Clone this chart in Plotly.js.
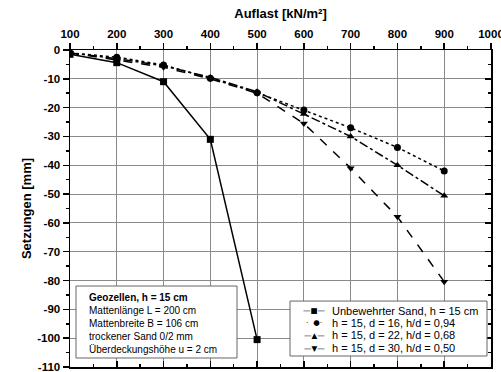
<!DOCTYPE html>
<html><head><meta charset="utf-8">
<script src="https://cdn.plot.ly/plotly-3.0.1.min.js"></script>
<style>html,body{margin:0;padding:0;background:#fff}#c{width:501px;height:372px}</style>
</head><body><div id="c"></div>
<script>
const loads = [100, 200, 300, 400, 500, 600, 700, 800, 900];
const unbewehrt = [-1.5, -4.4, -11, -31, -100.5];
const hd094 = [-1, -2.5, -5.2, -9.8, -14.8, -20.8, -27, -33.8, -42];
const hd068 = [-1, -3, -5.5, -9.5, -14.5, -22.2, -30, -40, -50.6];
const hd050 = [-1, -3.5, -6, -10, -15, -25.5, -41, -57.9, -80.4];
const names = ['Unbewehrter Sand, h = 15 cm', 'h = 15, d = 16, h/d = 0,94', 'h = 15, d = 22, h/d = 0,68', 'h = 15, d = 30, h/d = 0,50'];
const legendSamples = ['—■—', '·  ●·', '—▲—', '—▼—'];
const infoLines = ['<b>Geozellen, h = 15 cm</b>', 'Mattenlänge L = 200 cm', 'Mattenbreite B = 106 cm', 'trockener Sand 0/2 mm', 'Überdeckungshöhe u = 2 cm'];
const xTicks = [100, 200, 300, 400, 500, 600, 700, 800, 900, 1000];
const yTicks = [0, -10, -20, -30, -40, -50, -60, -70, -80, -90, -100, -110];

const FONT = 'Liberation Sans, Arial, sans-serif';
const mk = (sym) => ({symbol: sym, size: 7, color: '#000'});
const traces = [
  {x: loads.slice(0, unbewehrt.length), y: unbewehrt, name: names[0], mode: 'lines+markers', line: {color: '#000', width: 1.5, dash: 'solid'}, marker: mk('square')},
  {x: loads, y: hd094, name: names[1], mode: 'lines+markers', line: {color: '#000', width: 1.5, dash: 'dot'}, marker: mk('circle')},
  {x: loads, y: hd068, name: names[2], mode: 'lines+markers', line: {color: '#000', width: 1.5, dash: 'dashdot'}, marker: mk('triangle-up')},
  {x: loads, y: hd050, name: names[3], mode: 'lines+markers', line: {color: '#000', width: 1.5, dash: 'dash'}, marker: mk('triangle-down')},
  {x: [], y: [], xaxis: 'x2', yaxis: 'y2', showlegend: false, hoverinfo: 'skip', mode: 'lines'}
];
const tf = {family: FONT, size: 11.5, color: '#000', weight: 'bold'};

const legendRowY = [0.1776, 0.1397, 0.1000, 0.0599];
const annotations = [];
legendSamples.forEach((s, i) => {
  annotations.push({xref: 'paper', yref: 'paper', x: 0.5796, y: legendRowY[i], xanchor: 'center', yanchor: 'middle',
    showarrow: false, text: s, font: {family: 'DejaVu Sans, sans-serif', size: 7.5, color: '#000'}});
  annotations.push({xref: 'paper', yref: 'paper', x: 0.6176, y: legendRowY[i], xanchor: 'left', yanchor: 'middle',
    showarrow: false, text: names[i], font: {family: FONT, size: 11, color: '#000'}});
});
annotations.push({
  xref: 'paper', yref: 'paper', x: 0.0397, y: 0.1379, xanchor: 'left', yanchor: 'middle',
  align: 'left', showarrow: false, text: infoLines.join('<br>'),
  font: {family: FONT, size: 10, color: '#000'}
});

const layout = {
  width: 501, height: 372,
  margin: {l: 70, r: 10, t: 50, b: 5},
  paper_bgcolor: '#fff', plot_bgcolor: '#fff',
  showlegend: false,
  font: {family: FONT, color: '#000'},
  xaxis: {
    range: [100, 1000], side: 'top', tickvals: xTicks, ticktext: xTicks.map(String),
    ticks: 'outside', ticklen: 6, tickwidth: 1.5, tickcolor: '#000', ticklabeloverflow: 'allow',
    showline: true, linecolor: '#000', linewidth: 1.5,
    showgrid: true, gridcolor: '#8a8a8a', gridwidth: 1, zeroline: false,
    tickfont: tf,
    minor: {dtick: 50, tick0: 0, ticks: 'outside', ticklen: 3, tickcolor: '#000', showgrid: false},
    title: {text: 'Auflast [kN/m²]', font: {family: FONT, size: 13, color: '#000', weight: 'bold'}, standoff: 6}
  },
  yaxis: {
    range: [-110, 0], tickvals: yTicks, ticktext: yTicks.map(String),
    ticks: 'outside', ticklen: 6, tickwidth: 1.5, tickcolor: '#000', ticklabeloverflow: 'allow',
    showline: true, linecolor: '#000', linewidth: 1.5,
    showgrid: true, gridcolor: '#8a8a8a', gridwidth: 1, zeroline: false,
    tickfont: tf,
    minor: {dtick: 5, tick0: 0, ticks: 'outside', ticklen: 3, tickcolor: '#000', showgrid: false},
    title: {text: 'Setzungen [mm]', font: {family: FONT, size: 13, color: '#000', weight: 'bold'}, standoff: 2}
  },
  xaxis2: {
    range: [100, 1000], overlaying: 'x', anchor: 'y', side: 'bottom', tickvals: xTicks,
    showticklabels: false, ticks: 'inside', ticklen: 6, tickwidth: 1.5, tickcolor: '#000',
    showline: true, linecolor: '#000', linewidth: 1.5, showgrid: false, zeroline: false,
    minor: {dtick: 50, tick0: 0, ticks: 'inside', ticklen: 3, tickcolor: '#000', showgrid: false}
  },
  yaxis2: {
    range: [-110, 0], overlaying: 'y', anchor: 'x', side: 'right', tickvals: yTicks,
    showticklabels: false, ticks: 'inside', ticklen: 6, tickwidth: 1.5, tickcolor: '#000',
    showline: true, linecolor: '#000', linewidth: 1.5, showgrid: false, zeroline: false,
    minor: {dtick: 5, tick0: 0, ticks: 'inside', ticklen: 3, tickcolor: '#000', showgrid: false}
  },
  shapes: [
    {type: 'rect', xref: 'paper', yref: 'paper', x0: 0.5226, x1: 0.9905, y0: 0.0347, y1: 0.208,
      fillcolor: '#fff', line: {color: '#666', width: 1}, layer: 'above'},
    {type: 'rect', xref: 'paper', yref: 'paper', x0: 0.01425, x1: 0.3967, y0: 0.0284, y1: 0.2555,
      fillcolor: '#fff', line: {color: '#666', width: 1}, layer: 'above'}
  ],
  annotations: annotations
};
Plotly.newPlot('c', traces, layout, {displayModeBar: false, staticPlot: true});
</script></body></html>
